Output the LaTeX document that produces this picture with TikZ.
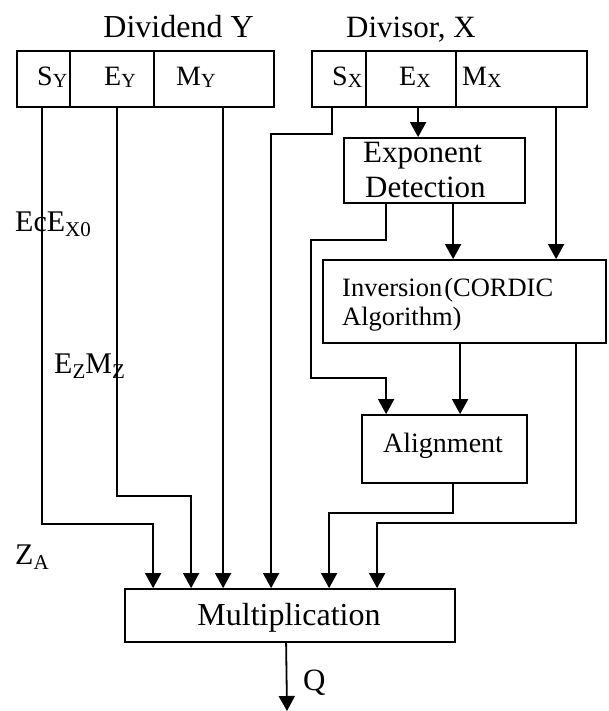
\documentclass[tikz,border=0pt]{standalone}
\usepackage{fontspec}
\setmainfont{Liberation Serif}
\usetikzlibrary{arrows.meta}
\newcommand\fsz[1]{\fontsize{#1}{#1}\selectfont}
% field subscripts inside the registers
\newcommand\rsub[1]{\raisebox{-1.5pt}{\fsz{20}#1}}
% subscripts of the side labels
\newcommand\lsub[1]{\raisebox{-5pt}{\fsz{21}#1}}
\begin{document}
\begin{tikzpicture}[x=1pt,y=-1pt,
  box/.style={draw, line width=1.8pt, rectangle, inner sep=0pt},
  arr/.style={line width=1.8pt, -{Triangle[width=16pt,length=15pt]}},
  txt/.style={anchor=base west, inner sep=0pt, font=\fsz{31}},
  reg/.style={anchor=base west, inner sep=0pt, font=\fsz{28}}]
\useasboundingbox[fill=white] (0,0) rectangle (608,711);

% register titles
\node[anchor=base, inner sep=0pt, font=\fsz{32}] (tY) at (178.5,38) {Dividend Y};
\node[anchor=base, inner sep=0pt, font=\fsz{31}] (tX) at (411,38) {Divisor, X};

% dividend register fields
\node[box, minimum width=53pt,  minimum height=56pt] (fSY) at (43.5,79) {};
\node[box, minimum width=84pt,  minimum height=56pt] (fEY) at (112,79) {};
\node[box, minimum width=120pt, minimum height=56pt] (fMY) at (214,79) {};
\node[reg] (lSY) at (37,86)  {S\rsub{Y}};
\node[reg] (lEY) at (104,86) {E\rsub{Y}};
\node[reg] (lMY) at (176,86) {M\rsub{Y}};

% divisor register fields
\node[box, minimum width=54pt,  minimum height=56pt] (fSX) at (339,79) {};
\node[box, minimum width=90pt,  minimum height=56pt] (fEX) at (411,79) {};
\node[box, minimum width=131pt, minimum height=56pt] (fMX) at (521.5,79) {};
\node[reg] (lSX) at (332,86) {S\rsub{X}};
\node[reg] (lEX) at (399,86) {E\rsub{X}};
\node[reg] (lMX) at (462,86) {M\rsub{X}};

% processing blocks
\node[box, minimum width=181pt, minimum height=65pt] (expdet) at (434.5,170.5) {};
\node[txt] (expA) at (363,163) {Exponent};
\node[txt] (expB) at (365,197) {Detection};

\node[box, minimum width=283pt, minimum height=83pt] (inv) at (464.5,301.5) {};
\node[anchor=base west, inner sep=0pt, font=\fsz{26.5}] (invA) at (342,296)
  {Inversion\hspace{2pt}(CORDIC};
\node[anchor=base west, inner sep=0pt, font=\fsz{26.5}] (invB) at (342,325) {Algorithm)};

\node[box, minimum width=165pt, minimum height=68pt] (align) at (444.5,449) {};
\node[anchor=base west, inner sep=0pt, font=\fsz{28}] (alT) at (383,452) {Alignment};

\node[box, minimum width=330pt, minimum height=53pt] (mult) at (290,615.5) {};
\node[anchor=base, inner sep=0pt, font=\fsz{32}] (muT) at (289,625) {Multiplication};

% side labels
\node[txt, font=\fsz{30}] (lab1) at (15,232) {EcE\lsub{X0}};
\node[txt, font=\fsz{30}] (lab2) at (54,373) {E\lsub{Z}M\lsub{Z}};
\node[txt, font=\fsz{30}] (lab3) at (15,564) {Z\lsub{A}};
\node[txt] (lQ) at (303,690) {Q};

% dividend fields into the multiplier
\draw[arr] ([xshift=26pt]fSY.south west) -- ++(0,416) -| ([xshift=29pt]mult.north west);
\draw[arr] ([xshift=48pt]fEY.south west) -- ++(0,388) -| ([xshift=67pt]mult.north west);
\draw[arr] ([xshift=70pt]fMY.south west) -- ([xshift=99pt]mult.north west);

% divisor sign straight to the multiplier
\draw[arr] ([xshift=21pt]fSX.south west) -- ++(0,26) -| ([xshift=147pt]mult.north west);

% divisor exponent and mantissa
\coordinate (ex0) at ([xshift=53pt]fEX.south west);
\draw[arr] (ex0) -- (ex0 |- expdet.north);
\coordinate (mx0) at ([xshift=101pt]fMX.south west);
\draw[arr] (mx0) -- (mx0 |- inv.north);

% exponent detection outputs
\coordinate (ed1) at ([xshift=110pt]expdet.south west);
\draw[arr] (ed1) -- (ed1 |- inv.north);
\draw[arr] ([xshift=43pt]expdet.south west) -- ++(0,36) -- ++(-75,0) -- ++(0,138)
  -| ([xshift=25pt]align.north west);

% inversion outputs
\coordinate (iv1) at ([xshift=138pt]inv.south west);
\draw[arr] (iv1) -- (iv1 |- align.north);
\draw[arr] ([xshift=254pt]inv.south west) -- ++(0,179) -| ([xshift=253pt]mult.north west);

% alignment output
\draw[arr] ([xshift=92pt]align.south west) -- ++(0,29) -| ([xshift=205pt]mult.north west);

% quotient
\coordinate (qend) at (287,711);
\draw[arr] ([xshift=162pt]mult.south west) -- (qend);
\end{tikzpicture}
\end{document}
